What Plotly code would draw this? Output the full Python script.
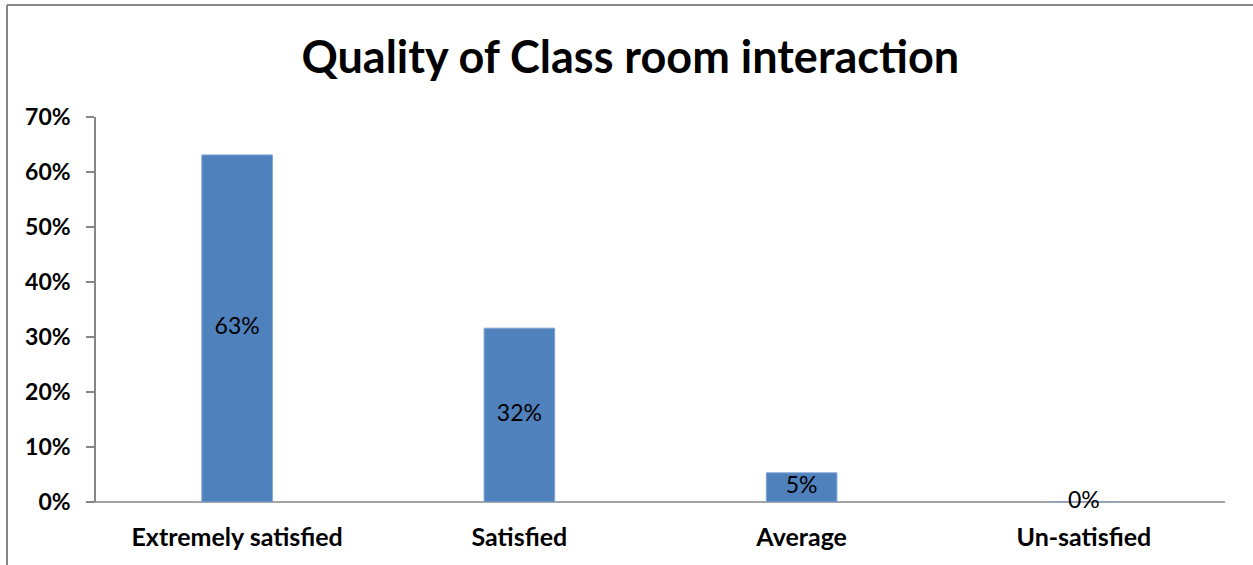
import plotly.graph_objects as go

categories = ["Extremely satisfied", "Satisfied", "Average", "Un-satisfied"]
values = [0.631, 0.316, 0.053, 0.0]
labels = ["63%", "32%", "5%", "0%"]
title_text = "Quality of Class room interaction"

W, H = 1253, 565
L, R, T, B = 96, 28, 117, 63
pw = W - L - R
ph = H - T - B

fig = go.Figure()
fig.add_trace(go.Bar(
    x=categories, y=values,
    marker=dict(color="#4F81BD", line=dict(color="#7FA3D3", width=1)),
    width=0.25,
    hoverinfo="skip",
))
fig.add_trace(go.Scatter(
    x=categories, y=[v / 2 for v in values],
    mode="text", text=labels,
    textfont=dict(family="Lato", size=23, color="#000000"),
    cliponaxis=False,
    hoverinfo="skip",
))

axis_color = "#868686"
fig.update_layout(
    width=W, height=H,
    margin=dict(l=L, r=R, t=T, b=B),
    paper_bgcolor="white", plot_bgcolor="white",
    showlegend=False,
    title=dict(text="<b>" + title_text + "</b>", x=0.503, xanchor="center",
               y=1 - 57 / H, yanchor="middle",
               font=dict(family="Lato", size=45, color="#000000")),
    xaxis=dict(
        showgrid=False, zeroline=False,
        showline=False,
        ticks="",
        tickfont=dict(family="Lato", size=25, color="#000000", weight="bold"),
        ticklabelstandoff=18,
        range=[-0.5, 3.5],
    ),
    yaxis=dict(
        range=[0, 0.7], dtick=0.1, tickformat=".0%",
        showgrid=False, zeroline=False,
        showline=True, linecolor=axis_color, linewidth=1.5,
        ticks="outside", ticklen=8, tickcolor=axis_color, tickwidth=1.5,
        tickfont=dict(family="Lato", size=23, color="#000000", weight="bold"),
        ticklabelstandoff=11,
    ),
    shapes=[
        # x axis line extending over the tick length
        dict(type="line", xref="paper", yref="paper", layer="below",
             x0=-8 / pw, x1=1, y0=0, y1=0,
             line=dict(color=axis_color, width=1.5)),
        # chart border (top and left)
        dict(type="line", xref="paper", yref="paper",
             x0=(7 - L) / pw, x1=(W - L) / pw, y0=1 + (T - 5) / ph, y1=1 + (T - 5) / ph,
             line=dict(color=axis_color, width=2)),
        dict(type="line", xref="paper", yref="paper",
             x0=(7 - L) / pw, x1=(7 - L) / pw, y0=1 + (T - 5) / ph, y1=-B / ph,
             line=dict(color=axis_color, width=2)),
    ],
)

fig.write_html("out.html", config={"displayModeBar": False},
               post_script="document.body.style.margin='0';")
